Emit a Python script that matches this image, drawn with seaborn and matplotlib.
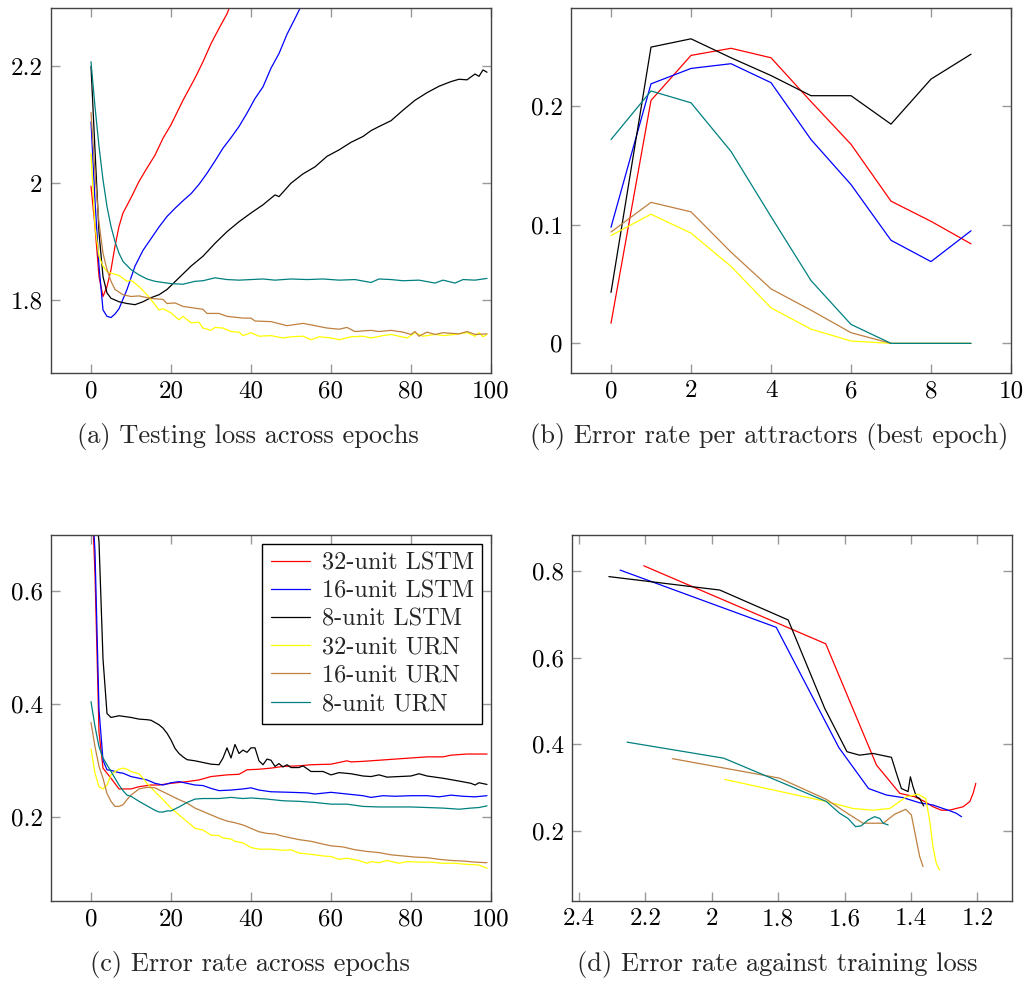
import matplotlib
matplotlib.use("Agg")
import matplotlib.pyplot as plt
from matplotlib.lines import Line2D
from matplotlib.ticker import FuncFormatter
import pandas as pd
import seaborn as sns

models = ["32-unit LSTM", "16-unit LSTM", "8-unit LSTM", "32-unit URN", "16-unit URN", "8-unit URN"]
colors = ["#ff0000", "#0000ff", "#000000", "#ffff00", "#bf8040", "#008080"]

# (a) testing loss per epoch (lines leave the top of the axes for the LSTMs)
loss_ep_lstm32 = [0, 1, 2, 3, 4, 5, 6, 7, 8, 10, 12, 14, 16, 18, 20, 23, 26, 28, 30, 32, 34, 35, 36]
loss_lstm32 = [1.995, 1.926, 1.84, 1.806, 1.823, 1.852, 1.892, 1.926, 1.949, 1.975, 2.003, 2.026,
               2.048, 2.077, 2.1, 2.142, 2.18, 2.208, 2.239, 2.265, 2.29, 2.308, 2.32]
loss_ep_lstm16 = [0, 1, 2, 3, 4, 5, 6, 7, 9, 11, 13, 15, 17, 19, 21, 23, 25, 27, 29, 31, 33, 35,
                  37, 39, 41, 43, 45, 47, 49, 51, 53]
loss_lstm16 = [2.105, 1.97, 1.858, 1.783, 1.772, 1.770, 1.776, 1.785, 1.818, 1.858, 1.885, 1.905,
               1.925, 1.943, 1.957, 1.97, 1.982, 1.998, 2.017, 2.038, 2.06, 2.078, 2.097, 2.12,
               2.145, 2.165, 2.197, 2.222, 2.255, 2.282, 2.31]
loss_ep_lstm8 = [0, 1, 2, 3, 4, 5, 7, 9, 11, 13, 15, 17, 19, 22, 25, 28, 31, 34, 37, 40, 43, 46,
                 47, 50, 53, 56, 59, 62, 65, 68, 70, 72, 75, 78, 81, 84, 87, 90, 92, 94, 96, 97, 98, 99]
loss_lstm8 = [2.2, 2.057, 1.915, 1.84, 1.812, 1.803, 1.797, 1.794, 1.792, 1.797, 1.804, 1.809,
              1.818, 1.838, 1.858, 1.875, 1.897, 1.917, 1.934, 1.949, 1.963, 1.98, 1.977, 2.0,
              2.016, 2.028, 2.046, 2.057, 2.07, 2.08, 2.09, 2.097, 2.107, 2.125, 2.142, 2.155,
              2.166, 2.174, 2.178, 2.177, 2.187, 2.183, 2.194, 2.19]
loss_ep_urn32 = [0, 1, 2, 3, 4, 5, 7, 9, 10, 12, 14, 16, 17, 18, 20, 22, 23, 25, 27, 28, 30, 31,
                 33, 35, 37, 38, 40, 42, 45, 48, 50, 53, 55, 57, 60, 62, 65, 68, 70, 73, 75, 77,
                 79, 81, 83, 86, 88, 91, 94, 96, 97, 98, 99]
loss_urn32 = [2.051, 1.926, 1.875, 1.858, 1.849, 1.846, 1.842, 1.832, 1.834, 1.823, 1.809, 1.792,
              1.783, 1.785, 1.778, 1.766, 1.772, 1.761, 1.762, 1.752, 1.748, 1.753, 1.752, 1.746,
              1.745, 1.739, 1.744, 1.738, 1.739, 1.735, 1.737, 1.738, 1.732, 1.737, 1.735, 1.732,
              1.737, 1.738, 1.735, 1.739, 1.741, 1.738, 1.735, 1.744, 1.738, 1.741, 1.739, 1.741,
              1.744, 1.738, 1.744, 1.737, 1.741]
loss_ep_urn16 = [0, 1, 2, 3, 4, 5, 6, 8, 10, 12, 14, 16, 18, 19, 21, 23, 26, 28, 29, 32, 34, 38,
                 40, 41, 45, 49, 53, 56, 59, 62, 64, 66, 70, 72, 75, 78, 80, 81, 82, 84, 86, 88,
                 92, 94, 96, 99]
loss_urn16 = [2.121, 2.017, 1.932, 1.88, 1.852, 1.832, 1.818, 1.809, 1.806, 1.807, 1.804, 1.802,
              1.801, 1.794, 1.795, 1.789, 1.786, 1.784, 1.777, 1.777, 1.772, 1.769, 1.769, 1.764,
              1.763, 1.756, 1.76, 1.756, 1.752, 1.75, 1.753, 1.746, 1.748, 1.746, 1.748, 1.745,
              1.741, 1.746, 1.738, 1.745, 1.741, 1.744, 1.742, 1.746, 1.741, 1.742]
loss_ep_urn8 = [0, 1, 2, 3, 4, 5, 6, 7, 8, 10, 12, 14, 16, 18, 20, 23, 26, 28, 31, 34, 37, 40,
                43, 46, 50, 54, 58, 62, 66, 70, 72, 75, 78, 82, 86, 88, 91, 93, 96, 99]
loss_urn8 = [2.208, 2.131, 2.063, 2.006, 1.96, 1.926, 1.9, 1.88, 1.866, 1.852, 1.843, 1.836,
             1.832, 1.83, 1.828, 1.827, 1.832, 1.833, 1.838, 1.835, 1.834, 1.835, 1.836, 1.834,
             1.836, 1.835, 1.836, 1.834, 1.835, 1.83, 1.836, 1.835, 1.833, 1.834, 1.829, 1.834,
             1.829, 1.835, 1.834, 1.837]

# (b) error rate per number of attractors
attractors = [0, 1, 2, 3, 4, 5, 6, 7, 8, 9]
attr_lstm32 = [0.017, 0.205, 0.243, 0.249, 0.241, 0.204, 0.168, 0.12, 0.103, 0.084]
attr_lstm16 = [0.098, 0.219, 0.232, 0.236, 0.22, 0.172, 0.134, 0.087, 0.069, 0.095]
attr_lstm8 = [0.043, 0.25, 0.257, 0.241, 0.226, 0.209, 0.209, 0.185, 0.223, 0.244]
attr_urn32 = [0.091, 0.109, 0.093, 0.065, 0.03, 0.012, 0.002, 0.0, 0.0, 0.0]
attr_urn16 = [0.094, 0.119, 0.111, 0.077, 0.046, 0.028, 0.009, 0.0, 0.0, 0.0]
attr_urn8 = [0.172, 0.213, 0.203, 0.162, 0.107, 0.053, 0.016, 0.0, 0.0, 0.0]

# (c) error rate per epoch
err_ep_lstm32 = [0, 1, 2, 3, 5, 7, 10, 12, 15, 17, 20, 24, 27, 30, 34, 37, 39, 42, 45, 48, 52, 55,
                 60, 64, 65, 68, 72, 76, 80, 84, 88, 90, 94, 99]
err_lstm32 = [0.81, 0.63, 0.35, 0.286, 0.268, 0.249, 0.249, 0.253, 0.256, 0.256, 0.259, 0.262,
              0.265, 0.271, 0.274, 0.275, 0.283, 0.284, 0.286, 0.289, 0.29, 0.292, 0.293, 0.299,
              0.297, 0.298, 0.3, 0.302, 0.304, 0.306, 0.306, 0.309, 0.311, 0.311]
err_ep_lstm16 = [0, 1, 2, 3, 4, 5, 7, 8, 10, 12, 14, 16, 18, 20, 22, 24, 26, 28, 30, 32, 35, 38,
                 40, 42, 45, 50, 54, 56, 60, 64, 68, 70, 73, 76, 80, 84, 87, 90, 93, 96, 99]
err_lstm16 = [0.80, 0.67, 0.39, 0.30, 0.283, 0.282, 0.278, 0.277, 0.271, 0.268, 0.265, 0.259,
              0.256, 0.26, 0.262, 0.259, 0.256, 0.255, 0.25, 0.246, 0.247, 0.249, 0.251, 0.247,
              0.244, 0.243, 0.242, 0.24, 0.243, 0.24, 0.237, 0.234, 0.237, 0.236, 0.237, 0.237,
              0.235, 0.238, 0.236, 0.235, 0.237]
err_ep_lstm8 = [0, 1, 2, 3, 4, 5, 7, 10, 12, 14, 15, 17, 18, 19, 20, 21, 22, 23, 24, 26, 28, 30,
                32, 33, 34, 35, 36, 37, 38, 39, 40, 41, 42, 43, 44, 45, 46, 47, 48, 49, 50, 52,
                53, 55, 58, 60, 62, 65, 68, 70, 72, 74, 77, 80, 82, 84, 88, 92, 95, 96, 97, 99]
err_lstm8 = [0.787, 0.755, 0.688, 0.48, 0.383, 0.376, 0.379, 0.376, 0.373, 0.372, 0.371, 0.363,
             0.357, 0.348, 0.336, 0.321, 0.312, 0.306, 0.301, 0.299, 0.296, 0.293, 0.292, 0.304,
             0.322, 0.304, 0.328, 0.312, 0.318, 0.314, 0.322, 0.322, 0.299, 0.292, 0.302, 0.3,
             0.289, 0.294, 0.288, 0.292, 0.287, 0.287, 0.29, 0.28, 0.28, 0.274, 0.278, 0.276,
             0.272, 0.271, 0.274, 0.27, 0.271, 0.272, 0.276, 0.272, 0.268, 0.263, 0.259, 0.256,
             0.26, 0.257]
err_ep_urn32 = [0, 1, 2, 3, 4, 5, 6, 7, 8, 9, 10, 12, 13, 14, 16, 18, 20, 22, 24, 26, 28, 30, 32,
                33, 35, 36, 38, 40, 42, 45, 48, 50, 52, 55, 58, 60, 62, 64, 67, 69, 70, 72, 74,
                77, 79, 82, 85, 88, 91, 94, 97, 99]
err_urn32 = [0.32, 0.277, 0.253, 0.249, 0.256, 0.274, 0.28, 0.284, 0.286, 0.284, 0.28, 0.276,
             0.268, 0.259, 0.244, 0.23, 0.215, 0.203, 0.191, 0.179, 0.176, 0.167, 0.166, 0.162,
             0.16, 0.156, 0.153, 0.145, 0.142, 0.142, 0.14, 0.141, 0.135, 0.133, 0.13, 0.129,
             0.124, 0.126, 0.122, 0.117, 0.12, 0.118, 0.122, 0.117, 0.12, 0.119, 0.119, 0.117,
             0.117, 0.115, 0.114, 0.108]
err_ep_urn16 = [0, 1, 2, 3, 4, 5, 6, 7, 8, 9, 10, 12, 14, 16, 18, 20, 22, 24, 26, 28, 30, 32, 34,
                36, 38, 40, 42, 44, 46, 48, 50, 52, 55, 58, 60, 63, 66, 69, 72, 75, 78, 81, 84,
                87, 90, 93, 96, 99]
err_urn16 = [0.367, 0.324, 0.289, 0.268, 0.241, 0.227, 0.218, 0.218, 0.221, 0.23, 0.238, 0.249,
             0.252, 0.251, 0.244, 0.237, 0.23, 0.224, 0.215, 0.209, 0.203, 0.197, 0.192, 0.189,
             0.185, 0.179, 0.173, 0.17, 0.169, 0.165, 0.162, 0.159, 0.156, 0.151, 0.148, 0.146,
             0.141, 0.138, 0.136, 0.132, 0.13, 0.128, 0.127, 0.124, 0.122, 0.121, 0.119, 0.118]
err_ep_urn8 = [0, 1, 2, 3, 4, 5, 6, 7, 8, 9, 10, 12, 14, 16, 17, 18, 19, 20, 22, 24, 26, 28, 32,
               35, 38, 40, 44, 48, 52, 56, 60, 64, 68, 72, 76, 80, 84, 88, 92, 95, 97, 99]
err_urn8 = [0.404, 0.36, 0.324, 0.304, 0.292, 0.28, 0.268, 0.256, 0.246, 0.238, 0.236, 0.227,
            0.219, 0.211, 0.208, 0.208, 0.21, 0.21, 0.217, 0.225, 0.231, 0.232, 0.232, 0.234,
            0.232, 0.233, 0.231, 0.228, 0.227, 0.225, 0.222, 0.222, 0.218, 0.217, 0.217, 0.217,
            0.216, 0.215, 0.213, 0.215, 0.216, 0.219]

# (d) error rate against training loss
tl_lstm32 = [2.205, 1.657, 1.504, 1.434, 1.389, 1.359, 1.334, 1.309, 1.284, 1.264, 1.243, 1.223, 1.213, 1.205]
te_lstm32 = [0.812, 0.632, 0.352, 0.287, 0.279, 0.268, 0.256, 0.248, 0.248, 0.252, 0.256, 0.268, 0.287, 0.31]
tl_lstm16 = [2.276, 1.806, 1.617, 1.528, 1.474, 1.424, 1.374, 1.334, 1.304, 1.284, 1.264, 1.248]
te_lstm16 = [0.802, 0.67, 0.392, 0.298, 0.283, 0.277, 0.265, 0.26, 0.252, 0.247, 0.241, 0.233]
tl_lstm8 = [2.31, 1.976, 1.77, 1.66, 1.593, 1.555, 1.515, 1.459, 1.444, 1.429, 1.409, 1.402, 1.394, 1.384, 1.374, 1.362]
te_lstm8 = [0.787, 0.756, 0.687, 0.483, 0.383, 0.375, 0.379, 0.37, 0.333, 0.298, 0.291, 0.325, 0.302, 0.279, 0.275, 0.258]
tl_urn32 = [1.961, 1.655, 1.575, 1.515, 1.464, 1.414, 1.379, 1.356, 1.344, 1.334, 1.324, 1.314]
te_urn32 = [0.319, 0.268, 0.252, 0.248, 0.252, 0.279, 0.285, 0.275, 0.225, 0.164, 0.125, 0.11]
tl_urn16 = [2.119, 1.796, 1.655, 1.6, 1.545, 1.484, 1.449, 1.416, 1.399, 1.384, 1.374, 1.364]
te_urn16 = [0.367, 0.322, 0.273, 0.245, 0.218, 0.218, 0.239, 0.25, 0.237, 0.179, 0.141, 0.118]
tl_urn8 = [2.255, 1.964, 1.796, 1.655, 1.615, 1.59, 1.567, 1.55, 1.53, 1.51, 1.494, 1.484, 1.469]
te_urn8 = [0.405, 0.368, 0.314, 0.268, 0.241, 0.229, 0.21, 0.212, 0.225, 0.233, 0.229, 0.218, 0.214]


def long_frame(xs, ys):
    parts = []
    for name, x, y in zip(models, xs, ys):
        parts.append(pd.DataFrame({"x": x, "y": y, "model": name}))
    return pd.concat(parts, ignore_index=True)


df_a = long_frame([loss_ep_lstm32, loss_ep_lstm16, loss_ep_lstm8, loss_ep_urn32, loss_ep_urn16, loss_ep_urn8],
                  [loss_lstm32, loss_lstm16, loss_lstm8, loss_urn32, loss_urn16, loss_urn8])
df_b = long_frame([attractors] * 6,
                  [attr_lstm32, attr_lstm16, attr_lstm8, attr_urn32, attr_urn16, attr_urn8])
df_c = long_frame([err_ep_lstm32, err_ep_lstm16, err_ep_lstm8, err_ep_urn32, err_ep_urn16, err_ep_urn8],
                  [err_lstm32, err_lstm16, err_lstm8, err_urn32, err_urn16, err_urn8])
df_d = long_frame([tl_lstm32, tl_lstm16, tl_lstm8, tl_urn32, tl_urn16, tl_urn8],
                  [te_lstm32, te_lstm16, te_lstm8, te_urn32, te_urn16, te_urn8])

sns.set_theme(style="ticks")
plt.rcParams["font.family"] = "cmr10"
plt.rcParams["mathtext.fontset"] = "cm"
plt.rcParams["axes.unicode_minus"] = False

palette = dict(zip(models, colors))
W, H = 1026, 982
fig = plt.figure(figsize=(W / 100, H / 100), dpi=100)


def make_axes(left, top, right, bottom):
    return fig.add_axes([left / W, 1 - bottom / H, (right - left) / W, (bottom - top) / H])


ax_a = make_axes(51, 8, 491, 373)
ax_b = make_axes(571, 8, 1011, 373)
ax_c = make_axes(51, 535, 491, 901)
ax_d = make_axes(572, 535, 1012, 901)

for ax, df in [(ax_a, df_a), (ax_b, df_b), (ax_c, df_c), (ax_d, df_d)]:
    sns.lineplot(data=df, x="x", y="y", hue="model", palette=palette, estimator=None,
                 sort=False, linewidth=0.9, legend=False, ax=ax)

fmt = FuncFormatter(lambda v, p: f"{v:g}")
settings = [
    (ax_a, (-10, 100), (1.675, 2.3), [0, 20, 40, 60, 80, 100], [1.8, 2.0, 2.2]),
    (ax_b, (-1, 10), (-0.025, 0.283), [0, 2, 4, 6, 8, 10], [0, 0.1, 0.2]),
    (ax_c, (-10, 100), (0.05, 0.7), [0, 20, 40, 60, 80, 100], [0.2, 0.4, 0.6]),
    (ax_d, (2.421, 1.096), (0.0385, 0.883), [2.4, 2.2, 2.0, 1.8, 1.6, 1.4, 1.2], [0.2, 0.4, 0.6, 0.8]),
]
for ax, xl, yl, xt, yt in settings:
    ax.set_xlim(*xl)
    ax.set_ylim(*yl)
    ax.set_xticks(xt)
    ax.set_yticks(yt)
    ax.xaxis.set_major_formatter(fmt)
    ax.yaxis.set_major_formatter(fmt)
    ax.set_xlabel("")
    ax.set_ylabel("")
    ax.tick_params(direction="in", length=6.5, width=1, color="#999999", labelsize=18,
                   top=True, right=True, labelcolor="black")
    ax.tick_params(axis="x", pad=5)
    ax.tick_params(axis="y", pad=6)
    for sp in ax.spines.values():
        sp.set_visible(True)
        sp.set_color("#444444")
        sp.set_linewidth(1)

handles = [Line2D([], [], color=c, lw=0.9) for c in colors]
leg = ax_c.legend(handles, models, loc="upper right", fontsize=17.5, frameon=True,
                  fancybox=False, framealpha=1, edgecolor="black", handlelength=1.6,
                  handletextpad=0.5, labelspacing=0.25, borderaxespad=0.35, borderpad=0.35)
leg.get_frame().set_linewidth(1)

captions = [
    (248, 437, "(a) Testing loss across epochs"),
    (769, 437, "(b) Error rate per attractors (best epoch)"),
    (250, 965, "(c) Error rate across epochs"),
    (777, 965, "(d) Error rate against training loss"),
]
for x, y, t in captions:
    fig.text(x / W, 1 - y / H, t, ha="center", va="center", fontsize=19)

fig.savefig("out.png", dpi=100)
